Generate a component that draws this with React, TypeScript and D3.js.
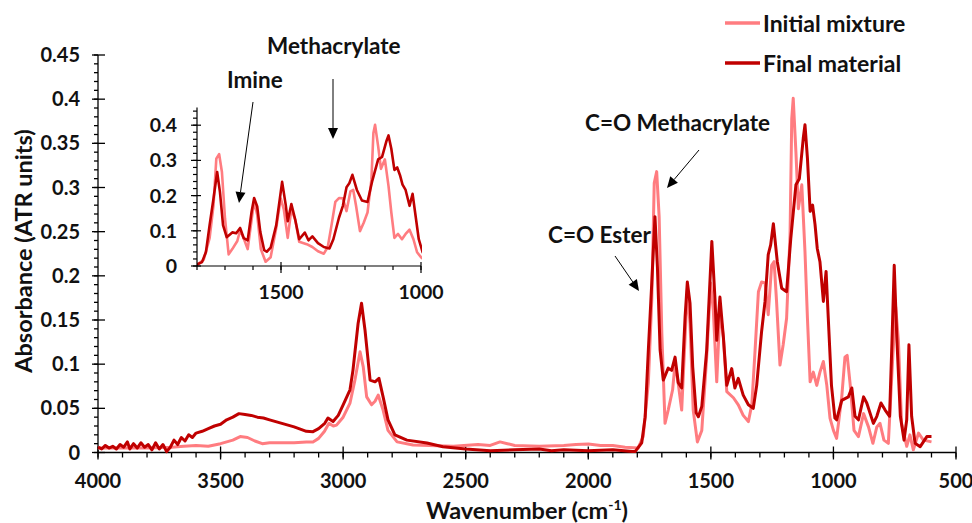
import * as d3 from "d3";

// wavenumber (cm-1) / absorbance pairs
const finalWn = [4000, 3985, 3970, 3955, 3940, 3925, 3910, 3895, 3880, 3870, 3855, 3840, 3825, 3810, 3795, 3780, 3765, 3750, 3735, 3720, 3705, 3690, 3675, 3660, 3645, 3630, 3615, 3600, 3575, 3550, 3525, 3500, 3475, 3450, 3425, 3400, 3375, 3350, 3325, 3300, 3250, 3200, 3150, 3123, 3100, 3075, 3062, 3041, 3020, 3000, 2972, 2960, 2939, 2925, 2911, 2890, 2870, 2854, 2837, 2817, 2789, 2740, 2658, 2593, 2500, 2400, 2300, 2200, 2150, 2100, 2000, 1900, 1820, 1809, 1782, 1768, 1755, 1741, 1728, 1718, 1707, 1694, 1674, 1660, 1646, 1633, 1619, 1605, 1596, 1585, 1574, 1560, 1551, 1537, 1517, 1496, 1483, 1476, 1463, 1449, 1435, 1415, 1402, 1388, 1368, 1347, 1327, 1313, 1293, 1279, 1266, 1256, 1245, 1229, 1211, 1191, 1174, 1153, 1139, 1123, 1116, 1106, 1095, 1085, 1075, 1066, 1055, 1041, 1030, 1021, 1008, 994, 987, 966, 939, 925, 912, 898, 877, 864, 837, 823, 806, 789, 771, 761, 752, 741, 727, 712, 701, 692, 681, 667, 646, 619, 600];
const finalAbs = [0.006, 0.004, 0.008, 0.005, 0.007, 0.004, 0.009, 0.006, 0.012, 0.004, 0.010, 0.005, 0.011, 0.006, 0.009, 0.003, 0.011, 0.004, 0.009, 0.001, 0.006, 0.014, 0.009, 0.017, 0.013, 0.020, 0.017, 0.022, 0.024, 0.027, 0.030, 0.032, 0.037, 0.040, 0.044, 0.043, 0.042, 0.040, 0.039, 0.037, 0.033, 0.029, 0.024, 0.0236, 0.027, 0.033, 0.039, 0.035, 0.042, 0.054, 0.071, 0.093, 0.146, 0.169, 0.139, 0.082, 0.080, 0.084, 0.063, 0.037, 0.020, 0.014, 0.0107, 0.0066, 0.004, 0.002, 0.003, 0.004, 0.002, 0.003, 0.002, 0.003, 0.001, 0.001, 0.011, 0.040, 0.116, 0.192, 0.267, 0.210, 0.116, 0.082, 0.0955, 0.093, 0.108, 0.079, 0.073, 0.154, 0.193, 0.169, 0.097, 0.045, 0.0405, 0.052, 0.116, 0.239, 0.173, 0.127, 0.176, 0.131, 0.076, 0.095, 0.073, 0.084, 0.065, 0.054, 0.050, 0.076, 0.137, 0.171, 0.224, 0.235, 0.259, 0.216, 0.186, 0.182, 0.242, 0.303, 0.310, 0.356, 0.371, 0.333, 0.273, 0.280, 0.258, 0.231, 0.216, 0.171, 0.205, 0.152, 0.076, 0.039, 0.037, 0.059, 0.063, 0.073, 0.041, 0.037, 0.063, 0.056, 0.033, 0.041, 0.056, 0.048, 0.041, 0.127, 0.212, 0.127, 0.041, 0.014, 0.037, 0.122, 0.041, 0.0104, 0.0066, 0.018, 0.018];

const initialWn = [4000, 3900, 3800, 3700, 3650, 3600, 3550, 3500, 3450, 3420, 3390, 3360, 3330, 3300, 3250, 3200, 3150, 3123, 3100, 3076, 3058, 3040, 3027, 3000, 2972, 2952, 2931, 2918, 2904, 2884, 2870, 2857, 2837, 2817, 2780, 2715, 2650, 2550, 2450, 2400, 2360, 2330, 2300, 2200, 2100, 2050, 2000, 1950, 1900, 1850, 1797, 1776, 1755, 1741, 1731, 1721, 1711, 1700, 1687, 1674, 1656, 1646, 1633, 1619, 1605, 1596, 1585, 1572, 1555, 1537, 1517, 1501, 1490, 1476, 1463, 1449, 1435, 1408, 1388, 1368, 1347, 1333, 1320, 1306, 1293, 1279, 1266, 1252, 1242, 1232, 1218, 1205, 1191, 1177, 1170, 1164, 1153, 1143, 1129, 1116, 1106, 1095, 1082, 1068, 1055, 1041, 1027, 1014, 1000, 987, 966, 953, 944, 932, 916, 898, 877, 857, 839, 823, 810, 794, 776, 758, 746, 735, 722, 701, 688, 674, 653, 633, 600];
const initialAbs = [0.005, 0.005, 0.005, 0.006, 0.007, 0.008, 0.007, 0.010, 0.014, 0.018, 0.017, 0.013, 0.010, 0.011, 0.011, 0.011, 0.012, 0.012, 0.016, 0.024, 0.033, 0.030, 0.031, 0.040, 0.056, 0.082, 0.114, 0.097, 0.063, 0.054, 0.058, 0.065, 0.048, 0.025, 0.012, 0.0085, 0.008, 0.007, 0.009, 0.008, 0.012, 0.010, 0.008, 0.007, 0.008, 0.009, 0.0095, 0.008, 0.008, 0.006, 0.005, 0.018, 0.079, 0.173, 0.305, 0.318, 0.267, 0.135, 0.033, 0.048, 0.071, 0.101, 0.078, 0.048, 0.131, 0.184, 0.146, 0.048, 0.012, 0.025, 0.108, 0.192, 0.161, 0.080, 0.161, 0.131, 0.069, 0.062, 0.054, 0.042, 0.035, 0.054, 0.114, 0.182, 0.193, 0.192, 0.156, 0.212, 0.216, 0.171, 0.099, 0.122, 0.152, 0.246, 0.378, 0.401, 0.340, 0.276, 0.303, 0.227, 0.152, 0.080, 0.091, 0.076, 0.091, 0.103, 0.076, 0.039, 0.025, 0.016, 0.063, 0.108, 0.110, 0.078, 0.025, 0.018, 0.044, 0.029, 0.0104, 0.029, 0.033, 0.014, 0.0104, 0.108, 0.165, 0.127, 0.033, 0.007, 0.020, 0.003, 0.022, 0.014, 0.012];

const yTicks = [0, 0.05, 0.1, 0.15, 0.2, 0.25, 0.3, 0.35, 0.4, 0.45];
const xTicks = [4000, 3500, 3000, 2500, 2000, 1500, 1000, 500];
const insetYTicks = [0, 0.1, 0.2, 0.3, 0.4];
const insetXTicks = [1500, 1000];

const LIGHT = "#ff7c80";
const DARK = "#c00000";
const FONT = "Lato, 'Open Sans', sans-serif";

type Pt = [number, number];
const initialPts: Pt[] = initialWn.map((w, i) => [w, initialAbs[i]]);
const finalPts: Pt[] = finalWn.map((w, i) => [w, finalAbs[i]]);

function Arrow({ x1, y1, x2, y2 }: { x1: number; y1: number; x2: number; y2: number }) {
  const a = Math.atan2(y2 - y1, x2 - x1);
  const len = 11, half = 5;
  const bx = x2 - len * Math.cos(a), by = y2 - len * Math.sin(a);
  const p1 = [bx + half * Math.sin(a), by - half * Math.cos(a)];
  const p2 = [bx - half * Math.sin(a), by + half * Math.cos(a)];
  return (
    <g>
      <line x1={x1} y1={y1} x2={bx} y2={by} stroke="#000" strokeWidth={1} />
      <polygon points={`${x2},${y2} ${p1[0]},${p1[1]} ${p2[0]},${p2[1]}`} fill="#000" />
    </g>
  );
}

export default function App() {
  const x = d3.scaleLinear().domain([4000, 500]).range([98, 956]);
  const y = d3.scaleLinear().domain([0, 0.45]).range([452.5, 55]);
  const xi = d3.scaleLinear().domain([1800, 1000]).range([197, 421]);
  const yi = d3.scaleLinear().domain([0, 0.45]).range([266, 107.6]);

  const line = d3.line<Pt>().x((d) => x(d[0])).y((d) => y(d[1]));
  const lineI = d3.line<Pt>().x((d) => xi(d[0])).y((d) => yi(d[1]));

  const yMinor = d3.range(0, 0.4501, 0.01);
  const xMinor = d3.range(500, 4001, 100);
  const yiMinor = d3.range(0, 0.4501, 0.02);
  const xiMinor = d3.range(1000, 1801, 100);

  return (
    <svg width={972} height={523} style={{ position: "absolute", left: 0, top: 0, background: "#fff" }}
      fontFamily={FONT} fontWeight="bold">
      <defs>
        <clipPath id="insetClip">
          <rect x={xi(1800)} y={100} width={xi(1000) - xi(1800) + 1} height={170} />
        </clipPath>
      </defs>

      {/* main axes */}
      <g stroke="#000" strokeWidth={1.3}>
        <line x1={x(4000)} x2={x(4000)} y1={y(0)} y2={y(0.45)} />
        <line x1={x(4000)} x2={x(500)} y1={y(0)} y2={y(0)} />
        {yMinor.map((v, i) => (
          <line key={"ym" + i} x1={x(4000) - 4} x2={x(4000)} y1={y(v)} y2={y(v)} />
        ))}
        {yTicks.map((v) => (
          <line key={"yt" + v} x1={x(4000) - 6} x2={x(4000) + 7} y1={y(v)} y2={y(v)} />
        ))}
        {xMinor.map((v) => (
          <line key={"xm" + v} x1={x(v)} x2={x(v)} y1={y(0)} y2={y(0) + 5} />
        ))}
        {xTicks.map((v) => (
          <line key={"xt" + v} x1={x(v)} x2={x(v)} y1={y(0) - 6} y2={y(0) + 7} />
        ))}
      </g>
      <g fontSize={20} fill="#111">
        {yTicks.map((v) => (
          <text key={"yl" + v} x={80} y={y(v) + 7} textAnchor="end">{v}</text>
        ))}
        {xTicks.map((v) => (
          <text key={"xl" + v} x={x(v)} y={488} textAnchor="middle">{v}</text>
        ))}
      </g>
      <text x={527} y={519} fontSize={23.5} textAnchor="middle" fill="#111">
        Wavenumber (cm<tspan fontSize={14} dy={-9}>-1</tspan><tspan dy={9}>)</tspan>
      </text>
      <text transform="translate(32,251) rotate(-90)" fontSize={23.5} textAnchor="middle" fill="#111">
        Absorbance (ATR units)
      </text>

      {/* spectra */}
      <path d={line(initialPts) || ""} fill="none" stroke={LIGHT} strokeWidth={3} strokeLinejoin="round" />
      <path d={line(finalPts) || ""} fill="none" stroke={DARK} strokeWidth={3} strokeLinejoin="round" />

      {/* inset */}
      <g clipPath="url(#insetClip)">
        <path d={lineI(initialPts) || ""} fill="none" stroke={LIGHT} strokeWidth={2.6} strokeLinejoin="round" />
        <path d={lineI(finalPts) || ""} fill="none" stroke={DARK} strokeWidth={2.6} strokeLinejoin="round" />
      </g>
      <g stroke="#000" strokeWidth={1.2}>
        <line x1={xi(1800)} x2={xi(1800)} y1={yi(0)} y2={yi(0.45)} />
        <line x1={xi(1800)} x2={xi(1000)} y1={yi(0)} y2={yi(0)} />
        {yiMinor.map((v, i) => (
          <line key={"yim" + i} x1={xi(1800) - 4} x2={xi(1800)} y1={yi(v)} y2={yi(v)} />
        ))}
        {insetYTicks.map((v) => (
          <line key={"yit" + v} x1={xi(1800) - 6} x2={xi(1800) + 4} y1={yi(v)} y2={yi(v)} />
        ))}
        {xiMinor.map((v) => (
          <line key={"xim" + v} x1={xi(v)} x2={xi(v)} y1={yi(0)} y2={yi(0) + 4} />
        ))}
        {insetXTicks.map((v) => (
          <line key={"xit" + v} x1={xi(v)} x2={xi(v)} y1={yi(0) - 4} y2={yi(0) + 7} />
        ))}
      </g>
      <g fontSize={19.5} fill="#111">
        {insetYTicks.map((v) => (
          <text key={"yil" + v} x={177} y={yi(v) + 7} textAnchor="end">{v}</text>
        ))}
        {insetXTicks.map((v) => (
          <text key={"xil" + v} x={xi(v)} y={299} textAnchor="middle">{v}</text>
        ))}
      </g>

      {/* annotations */}
      <g fontSize={22.5} fill="#111">
        <text x={267} y={54}>Methacrylate</text>
        <text x={227} y={88}>Imine</text>
        <text x={585} y={131}>C=O Methacrylate</text>
        <text x={548} y={243}>C=O Ester</text>
      </g>
      <Arrow x1={253} y1={102} x2={239} y2={203} />
      <Arrow x1={333} y1={79} x2={333} y2={139} />
      <Arrow x1={699} y1={150} x2={667} y2={188} />
      <Arrow x1={615} y1={256} x2={639} y2={291} />

      {/* legend */}
      <line x1={725} x2={760} y1={23} y2={23} stroke={LIGHT} strokeWidth={3.5} />
      <line x1={725} x2={760} y1={63} y2={63} stroke={DARK} strokeWidth={3.5} />
      <g fontSize={23} fill="#111">
        <text x={763} y={32}>Initial mixture</text>
        <text x={763} y={72}>Final material</text>
      </g>
    </svg>
  );
}
